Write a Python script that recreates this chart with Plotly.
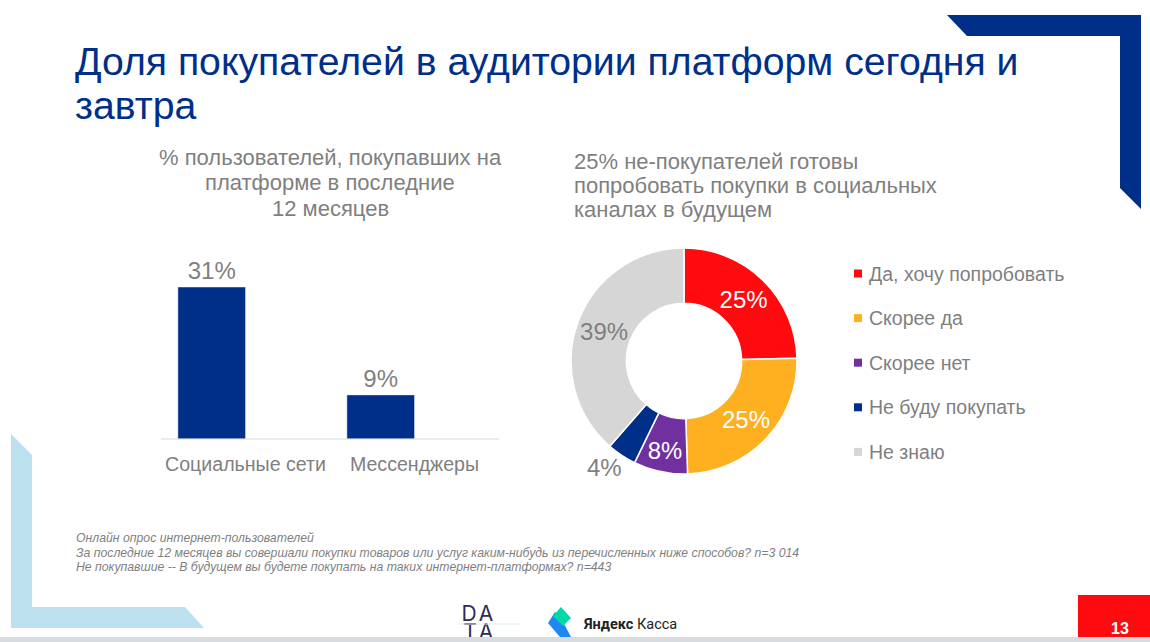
import plotly.graph_objects as go

# bar chart
bar_categories = ['Социальные сети', 'Мессенджеры']
bar_values = [31, 9]
bar_labels = ['31%', '9%']

# donut
pie_names = ['Да, хочу попробовать', 'Скорее да', 'Скорее нет', 'Не буду покупать', 'Не знаю']
pie_values = [24.6, 24.9, 7.7, 4.2, 38.6]
pie_labels = ['25%', '25%', '8%', '4%', '39%']
pie_colors = ['#ff0a0e', '#ffb020', '#7030a0', '#002f8a', '#d6d6d6']
pie_text_colors = ['white', 'white', 'white', '#7f7f7f', '#7f7f7f']

# slide texts, one entry per line
title_lines = ['Доля покупателей в аудитории платформ сегодня и', 'завтра']
left_head = ['% пользователей, покупавших на', 'платформе в последние', '12 месяцев']
right_head = ['25% не-покупателей готовы', 'попробовать покупки в социальных', 'каналах в будущем']
notes = [
    'Онлайн опрос интернет-пользователей',
    'За последние 12 месяцев вы совершали покупки товаров или услуг каким-нибудь из перечисленных ниже способов? n=3 014',
    'Не покупавшие -- В будущем вы будете покупать на таких интернет-платформах? n=443',
]

NAVY = '#002f8a'
GREY = '#7f7f7f'
W, H = 1150, 642

fig = go.Figure()

fig.add_trace(go.Bar(
    x=bar_categories, y=bar_values, text=bar_labels,
    textposition='outside', cliponaxis=False,
    textfont={'size': 24, 'color': GREY},
    marker_color=NAVY, width=0.4, offset=-0.4,
    showlegend=False,
))

# the small slice label sits outside the ring, placed by hand below
fig.add_trace(go.Pie(
    values=pie_values, labels=pie_names,
    text=[t if i != 3 else '' for i, t in enumerate(pie_labels)],
    textinfo='text', sort=False, direction='clockwise', rotation=0, hole=0.51,
    textposition='inside', insidetextorientation='horizontal',
    textfont={'size': 24, 'color': pie_text_colors},
    marker={'colors': pie_colors, 'line': {'color': 'white', 'width': 1.5}},
    domain={'x': [571 / W, 797 / W], 'y': [1 - 474 / H, 1 - 248 / H]},
    showlegend=False,
))

# overlay axes in page pixels, for the slide furniture
# logo letters are a trace so that the bottom band can cover the second row
fig.add_trace(go.Scatter(
    x=[469, 486, 470, 486], y=[616, 616, 634, 634], mode='text', text=['D', 'A', 'T', 'A'],
    textfont={'size': 21, 'color': '#2f2a55', 'family': 'Inter'},
    xaxis='x2', yaxis='y2', showlegend=False, hoverinfo='skip',
))

shapes = [
    # corners
    {'path': 'M947,15 L1141,15 L1141,209 L1120,188 L1120,36 L967,36 Z', 'fillcolor': NAVY},
    {'path': 'M11,434 L32,455 L32,607 L185,607 L204,628 L11,628 Z', 'fillcolor': '#bde0ee'},
    # axis line
    {'path': 'M161,439 L499,439', 'line': {'color': '#d9d9d9', 'width': 1}},
    # page number box and bottom band
    {'path': 'M1078,595 L1150,595 L1150,637 L1078,637 Z', 'fillcolor': '#ff0a0e'},
    {'path': 'M458,624 L520,624', 'line': {'color': '#dfeaf0', 'width': 1}},
    {'path': 'M0,637 L1150,637 L1150,642 L0,642 Z', 'fillcolor': '#d9dcdf'},
    # payment logo
    {'path': 'M555,612 L548,623 L560,637 L571,637 L562,620 Z', 'fillcolor': '#1e88f0'},
    {'path': 'M561,607 L571,618 L563,626 L553,616 Z', 'fillcolor': '#00d9a8'},
    {'path': 'M568,624 A5,5 0 1 1 578,624 A5,5 0 1 1 568,624 Z', 'fillcolor': '#00e0b0'},
]
for s in shapes:
    s.setdefault('line', {'width': 0})
    s.update(xref='x2', yref='y2', layer='above', type='path')

annotations = []


def add_text(x, y, text, size, color=GREY, anchor='left', **font):
    annotations.append(dict(
        x=x, y=y, xref='x2', yref='y2', text=text, showarrow=False,
        xanchor=anchor, yanchor='middle', align=anchor,
        font={'size': size, 'color': color, **font},
    ))


for y, line in zip([61, 105], title_lines):
    add_text(73, y, line, 39.2, color=NAVY)
for y, line in zip([157, 182, 208], left_head):
    add_text(330, y, line, 22, anchor='center')
for y, line in zip([161, 185, 209], right_head):
    add_text(572, y, line, 22)
for y, line in zip([538, 553, 567], notes):
    add_text(74, y, line, 12.25, style='italic')
add_text(604, 467, pie_labels[3], 24, anchor='center')
add_text(1120, 628, '13', 16, color='white', anchor='center', weight='bold')
add_text(581, 624, '<b>Яндекс</b> Касса', 14.5, color='#222222', family='Roboto')

# hand made legend, the real one can't space pie entries this far apart
for i, (name, color) in enumerate(zip(pie_names, pie_colors)):
    y = 273.5 + i * 44.6
    add_text(867, y, name, 19.5)
    shapes.append(dict(type='path', path=f'M854,{y - 4} L862,{y - 4} L862,{y + 4} L854,{y + 4} Z',
                       fillcolor=color, line={'width': 0}, xref='x2', yref='y2', layer='above'))

fig.update_layout(
    width=W, height=H, margin={'l': 0, 'r': 0, 't': 0, 'b': 0},
    paper_bgcolor='white', plot_bgcolor='rgba(0,0,0,0)',
    font={'family': 'Liberation Sans', 'color': GREY},
    shapes=shapes, annotations=annotations,
    xaxis={'domain': [161 / W, 499 / W], 'range': [-0.5, 1.5], 'type': 'category',
           'showgrid': False, 'showline': False, 'ticks': '', 'ticklabelstandoff': 11,
           'tickfont': {'size': 19.6, 'color': GREY}},
    yaxis={'domain': [1 - 439 / H, 1 - 250 / H], 'range': [0, 38.55],
           'showgrid': False, 'zeroline': False, 'showticklabels': False},
    xaxis2={'domain': [0, 1], 'range': [0, W], 'visible': False, 'anchor': 'y2'},
    yaxis2={'domain': [0, 1], 'range': [H, 0], 'visible': False, 'anchor': 'x2'},
)

fig.write_html('out.html', config={'displayModeBar': False}, post_script="document.body.style.margin='0';")
